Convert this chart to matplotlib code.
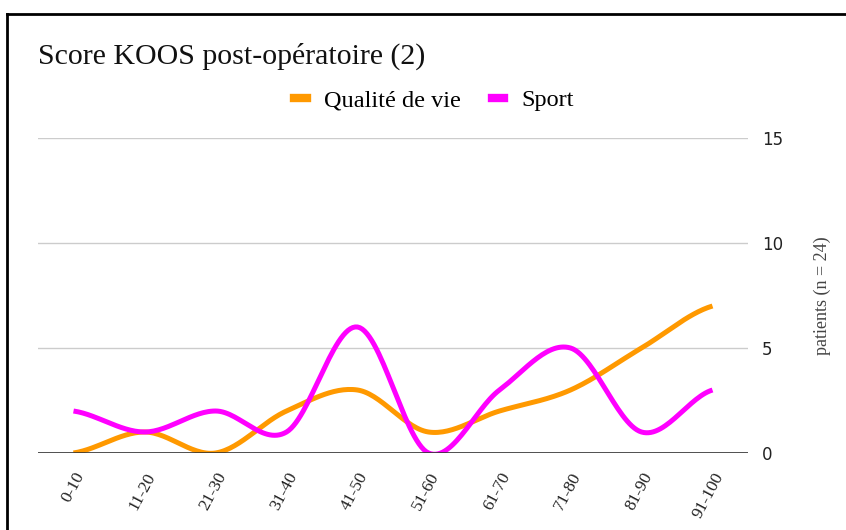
import matplotlib
matplotlib.use("Agg")
import matplotlib.pyplot as plt
from matplotlib.lines import Line2D
import numpy as np

# Data
categories = ["0-10", "11-20", "21-30", "31-40", "41-50", "51-60",
              "61-70", "71-80", "81-90", "91-100"]
qualite = [0, 1, 0, 2, 3, 1, 2, 3, 5, 7]
sport = [2, 1, 2, 1, 6, 0, 3, 5, 1, 3]
yticks = [0, 5, 10, 15]

ORANGE = "#FF9900"
MAGENTA = "#FF00FF"
SERIF = ["Liberation Serif", "DejaVu Serif"]


def smooth(y, n=30, k=0.5):
    # cubic hermite through the points (curve rendering only)
    y = np.asarray(y, dtype=float)
    x = np.arange(len(y))
    m = np.zeros_like(y)
    m[1:-1] = (y[2:] - y[:-2]) * k
    m[0] = (y[1] - y[0]) * k
    m[-1] = (y[-1] - y[-2]) * k
    xs, ys = [], []
    for i in range(len(y) - 1):
        t = np.linspace(0, 1, n, endpoint=False)
        h00 = 2 * t**3 - 3 * t**2 + 1
        h10 = t**3 - 2 * t**2 + t
        h01 = -2 * t**3 + 3 * t**2
        h11 = t**3 - t**2
        xs.append(x[i] + t)
        ys.append(h00 * y[i] + h10 * m[i] + h01 * y[i + 1] + h11 * m[i + 1])
    xs.append([x[-1]])
    ys.append([y[-1]])
    return np.concatenate(xs), np.concatenate(ys)


fig = plt.figure(figsize=(8.46, 5.30), dpi=100)
ax = fig.add_axes([38 / 846, 1 - 453 / 530, 710 / 846, 315 / 530])

for vals, col, lab in [(qualite, ORANGE, "Qualité de vie"), (sport, MAGENTA, "Sport")]:
    xs, ys = smooth(vals)
    ax.plot(xs, ys, color=col, lw=3.6, solid_capstyle="butt", label=lab,
            zorder=3, clip_on=True)

ax.set_xlim(-0.5, len(categories) - 0.5)
ax.set_ylim(0, 15)
ax.set_yticks(yticks)
ax.yaxis.tick_right()
ax.yaxis.set_label_position("right")
ax.grid(axis="y", color="#cccccc", lw=1)
ax.axhline(0, color="#333333", lw=1.2, zorder=4)
ax.tick_params(axis="y", length=0, pad=10, labelsize=12, labelcolor="#222222")
ax.set_ylabel("patients (n = 24)", fontsize=13, color="#444444",
              family=SERIF, labelpad=22)
ax.set_xticks(range(len(categories)))
ax.set_xticklabels(categories, rotation=62, ha="right", rotation_mode="anchor",
                   family=SERIF, fontsize=12.5, color="#222222")
ax.tick_params(axis="x", length=0, pad=12)
for s in ax.spines.values():
    s.set_visible(False)

fig.text(38 / 846, 1 - 56 / 530, "Score KOOS post-opératoire (2)", fontsize=21.5,
         family=SERIF, va="center", ha="left", color="#111111")

handles = [Line2D([0], [0], color=ORANGE, lw=6), Line2D([0], [0], color=MAGENTA, lw=6)]
fig.legend(handles, ["Qualité de vie", "Sport"], loc="center",
           bbox_to_anchor=(434 / 846, 1 - 100 / 530), ncol=2, frameon=False,
           prop={"family": SERIF, "size": 17.5}, handlelength=0.5,
           handletextpad=0.7, columnspacing=1.3)

# screenshot frame
fig.add_artist(Line2D([7 / 846, 1], [1 - 14 / 530] * 2, color="black", lw=2))
fig.add_artist(Line2D([7 / 846] * 2, [0, 1 - 14 / 530], color="black", lw=2))

fig.savefig("out.png", dpi=100)
